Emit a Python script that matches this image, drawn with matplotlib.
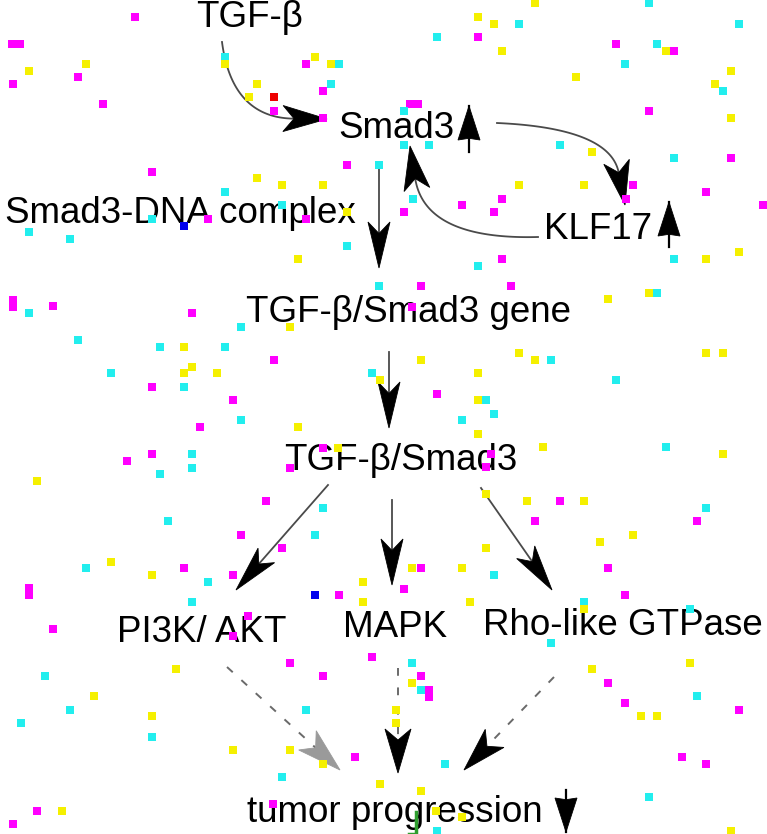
"""
Pathway diagram: TGF-beta / Smad3 / KLF17 -> tumor progression
Output: out.png
"""

import numpy as np
import matplotlib.pyplot as plt
from matplotlib.patches import Polygon

plt.rcParams['font.family'] = ['Liberation Sans', 'DejaVu Sans']

# ── Nodes (label, x centre, baseline y) in pixel space ────────────────────────
node_labels = ['TGF-β', 'Smad3', 'Smad3-DNA complex', 'KLF17',
               'TGF-β/Smad3 gene', 'TGF-β/Smad3', 'PI3K/ AKT', 'MAPK',
               'Rho-like GTPase', 'tumor progression']
node_x = [250, 396, 180, 598, 408, 401, 202, 395, 623, 395]
node_y = [27, 138, 223, 239, 322, 470, 642, 637, 635, 822]

# ── Edges: start, (optional) bezier control, tip ──────────────────────────────
curve_start = [(222, 42), (497, 123), (538, 237)]
curve_ctrl = [(232, 118), (610, 128), (425, 240)]
curve_tip = [(327, 119), (625, 205), (410, 146)]

straight_start = [(379, 163), (389, 352), (328, 485), (392, 500), (481, 488)]
straight_tip = [(379, 268), (389, 428), (236, 590), (392, 585), (552, 590)]

dashed_start = [(227, 667), (398, 668), (554, 677)]
dashed_tip = [(340, 770), (398, 773), (464, 770)]
dashed_head = ['#9a9a9a', 'black', 'black']

# up/down marks next to labels: stem end, tip
mark_stem = [(469, 152), (669, 247), (566, 790)]
mark_tip = [(469, 106), (669, 202), (566, 832)]

# ── Background speckles: x, y, colour code (m/c/y/b/r) ────────────────────────
sq_x = [135, 12, 20, 86, 29, 78, 13, 103, 225, 225, 306, 315, 331, 339, 331, 323,
        257, 249, 274, 274, 323, 152, 347, 379, 257, 282, 323, 225, 282, 347, 152,
        184, 208, 306, 29, 70, 347, 298,
        535, 649, 478, 494, 519, 739, 437, 478, 502, 616, 657, 666, 674, 625, 576,
        731, 715, 723, 410, 418, 404, 649, 731, 404, 429, 560, 592, 674, 731, 519,
        584, 633, 706, 763, 413, 502, 462, 494, 404, 626, 674, 706, 739, 502, 478,
        13, 13, 29, 53, 192, 241, 290, 379, 78, 160, 184, 225, 274, 192, 184, 217,
        111, 372, 380, 152, 184, 233, 241, 200, 298, 152, 127, 192, 192, 160, 323,
        338, 290, 37, 266, 323, 168, 241, 315, 282,
        421, 511, 412, 608, 649, 657, 519, 535, 551, 421, 706, 723, 616, 478, 437,
        478, 486, 494, 462, 478, 543, 666, 723, 491, 486, 486, 527, 560, 584, 535,
        706, 697, 633, 600, 486,
        86, 111, 152, 184, 208, 233, 29, 29, 192, 315, 339, 363, 363, 53, 248, 233,
        372, 290, 323, 176, 45, 94, 70, 21, 152, 152, 306, 233, 290, 323, 355, 282,
        380, 37, 62, 13, 273,
        412, 421, 462, 494, 608, 404, 470, 625, 584, 584, 690, 551, 412, 421, 412,
        421, 429, 429, 396, 396, 592, 608, 625, 641, 657, 690, 697, 739, 445, 682,
        706, 421, 649, 436, 462, 437, 731]
sq_y = [17, 44, 44, 64, 71, 77, 84, 104, 57, 64, 64, 57, 64, 64, 84, 91,
        84, 97, 97, 111, 118, 172, 165, 165, 178, 185, 185, 192, 205, 212, 219,
        226, 219, 219, 232, 239, 246, 259,
        3, 3, 17, 24, 24, 24, 37, 37, 51, 44, 44, 51, 51, 64, 77,
        71, 84, 91, 104, 104, 111, 111, 118, 145, 145, 145, 152, 158, 158, 185,
        185, 185, 192, 205, 199, 199, 205, 212, 212, 199, 259, 259, 252, 259, 266,
        300, 307, 313, 306, 313, 327, 327, 286, 340, 347, 347, 347, 360, 367, 373, 373,
        373, 373, 380, 387, 387, 400, 420, 427, 427, 454, 461, 454, 468, 474, 448,
        448, 468, 481, 501, 508, 521, 535, 535, 548,
        286, 286, 307, 299, 293, 293, 353, 360, 360, 360, 353, 353, 380, 373, 394,
        400, 400, 414, 420, 434, 447, 447, 454, 454, 467, 494, 501, 501, 501, 521,
        508, 521, 535, 542, 548,
        568, 562, 575, 568, 582, 575, 588, 595, 602, 595, 595, 582, 602, 629, 616, 636,
        657, 663, 676, 669, 676, 696, 710, 723, 716, 737, 710, 750, 750, 764, 757, 777,
        784, 811, 811, 824, 804,
        568, 568, 568, 575, 568, 589, 602, 595, 602, 609, 609, 643, 663, 676, 683,
        690, 690, 697, 710, 723, 669, 683, 703, 716, 716, 663, 696, 710, 764, 757,
        764, 791, 797, 811, 817, 831, 831]
sq_codes = ('mmmyymmm' 'cymyyccm' 'yyrmmmmc' 'yyyccycb' 'mmcccy'
            'ycyycccm' 'ymcymcyy' 'ycmmcmyc' 'ccycmyym' 'mmcmmmmm' 'cyymc'
            'mmcmmcyc' 'ccycmyyy' 'ccymcmcm' 'ymmcccmy' 'mymccmcm'
            'mmmyycyy' 'cyyycymy' 'cccyycym' 'myymymcm' 'yyy'
            'cyymcmmm' 'cbmyymmm' 'mmmycycc' 'yccyyymc' 'ymymm'
            'ymycmmym' 'cycccmyc' 'mmyyymmy' 'yycmcmmy' 'cyycy')
colour_map = {'m': '#ff00ff', 'c': '#22eeee', 'y': '#f5f000',
              'b': '#0000ee', 'r': '#ee0000'}
sq_c = [colour_map[ch] for ch in sq_codes]


def arrow_head(ax, tip, direction, length, half_w, color, notch=0.25, z=3):
    tip = np.asarray(tip, float)
    d = np.asarray(direction, float)
    d = d / np.hypot(*d)
    n = np.array([-d[1], d[0]])
    base = tip - length * d
    pts = [tip, base + half_w * n, tip - (1 - notch) * length * d, base - half_w * n]
    ax.add_patch(Polygon(pts, closed=True, fc=color, ec=color, lw=0.6, zorder=z))
    return tip - (1 - notch) * length * d


fig = plt.figure(figsize=(7.67, 8.34), dpi=100)
ax = fig.add_axes([0, 0, 1, 1])
ax.set_xlim(0, 767)
ax.set_ylim(834, 0)
ax.axis('off')

line_col = '#4a4a4a'

# curved arrows
t = np.linspace(0, 1, 60)[:, None]
for p0, c, p2 in zip(curve_start, curve_ctrl, curve_tip):
    p0, c, p2 = map(np.asarray, (p0, c, p2))
    neck = arrow_head(ax, p2, p2 - c, 44, 13, 'black')
    pts = (1 - t) ** 2 * p0 + 2 * (1 - t) * t * c + t ** 2 * neck
    ax.plot(pts[:, 0], pts[:, 1], color=line_col, lw=1.3, zorder=2)

# straight arrows
for s, e in zip(straight_start, straight_tip):
    s, e = np.asarray(s, float), np.asarray(e, float)
    neck = arrow_head(ax, e, e - s, 46, 11, 'black')
    ax.plot([s[0], neck[0]], [s[1], neck[1]], color=line_col, lw=1.3, zorder=2)

# dashed arrows
for s, e, hc in zip(dashed_start, dashed_tip, dashed_head):
    s, e = np.asarray(s, float), np.asarray(e, float)
    neck = arrow_head(ax, e, e - s, 44, 13, hc)
    ax.plot([s[0], neck[0]], [s[1], neck[1]], color='#6a6a6a', lw=1.4,
            ls=(0, (4, 6)), zorder=2)

# up/down marks
for s, e in zip(mark_stem, mark_tip):
    s, e = np.asarray(s, float), np.asarray(e, float)
    arrow_head(ax, e, e - s, 34, 11, 'black', notch=0.05)
    ax.plot([s[0], e[0]], [s[1], e[1]], color='black', lw=1.6, zorder=2)

# labels
for lab, x, y in zip(node_labels, node_x, node_y):
    ax.text(x, y, lab, ha='center', va='baseline', fontsize=26.5,
            color='black', zorder=4)

# speckles
ax.scatter(sq_x, sq_y, s=30, marker='s', c=sq_c, linewidths=0, zorder=5)

# small green stroke at the bottom
ax.plot([416, 416, 409], [812, 834, 834], color='#2e9e2e', lw=2.5, zorder=5)

fig.savefig('out.png', dpi=100, facecolor='white')
